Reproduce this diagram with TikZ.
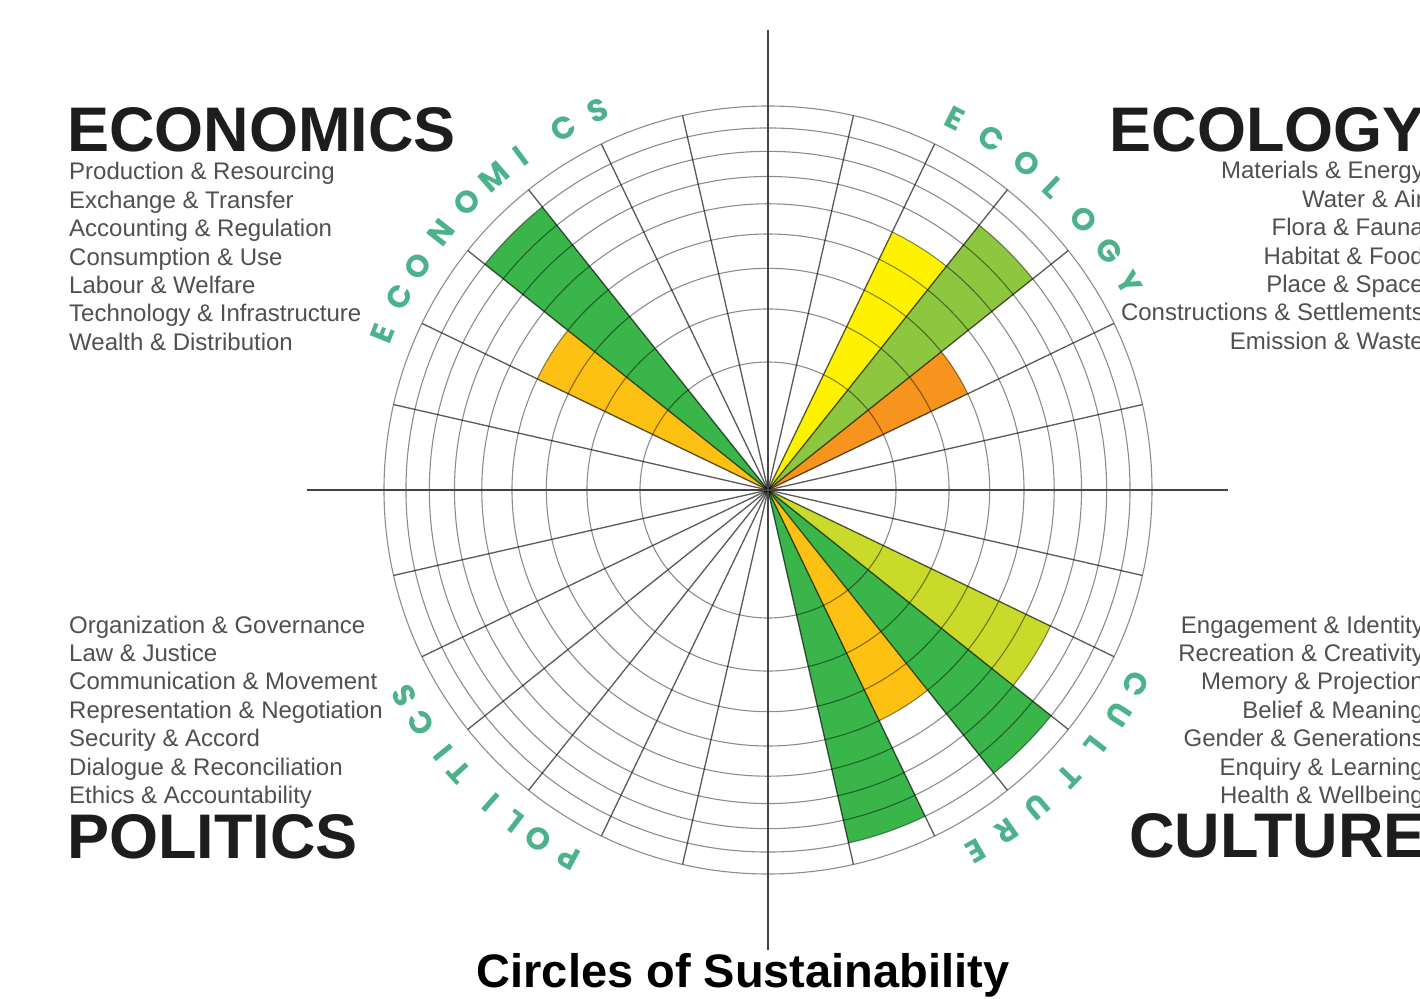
\documentclass[tikz,border=0pt]{standalone}
\usepackage{fontspec}
\setmainfont{Liberation Sans}
\newfontfamily\arcfont{Poppins}
\definecolor{arcteal}{HTML}{4BB28C}
\definecolor{secgreen}{HTML}{39B54A}
\definecolor{secamber}{HTML}{FDC113}
\definecolor{secyellow}{HTML}{FFF200}
\definecolor{seclgreen}{HTML}{8DC63F}
\definecolor{secorange}{HTML}{F7941E}
\definecolor{seclime}{HTML}{C9DA2A}
\definecolor{listgray}{HTML}{505050}
\definecolor{titleblack}{HTML}{1E1C1D}
\definecolor{axisgray}{HTML}{444444}
\newcommand\fillsector[3]{% colour, sector index, ring
  \pgfmathsetmacro\rr{384*sqrt(#3/9)}%
  \pgfmathsetmacro\aa{#2*360/28}%
  \pgfmathsetmacro\ab{(#2+1)*360/28}%
  \fill[#1] (0,0) -- (\aa:\rr) arc[start angle=\aa, end angle=\ab, radius=\rr] -- cycle;}
\tikzset{
  ringline/.style={draw=black, draw opacity=0.45, line width=1.1pt},
  spokeline/.style={draw=black, draw opacity=0.65, line width=1.3pt},
  axisline/.style={draw=axisgray, line width=2.4pt},
  arcletter/.style={font=\arcfont\bfseries\fontsize{31}{31}\selectfont, text=arcteal, inner sep=0pt, anchor=center},
  bigtitle/.style={font=\fontsize{63}{63}\selectfont\bfseries, text=titleblack, inner sep=0pt},
  listleft/.style={font=\fontsize{24}{24}\selectfont, text=listgray, inner sep=0pt, anchor=base west},
  listright/.style={font=\fontsize{24}{24}\selectfont, text=listgray, inner sep=0pt, anchor=base east},
}
\begin{document}
\begin{tikzpicture}[x=1pt,y=1pt]
\useasboundingbox (-768,-508) rectangle (652,490);
\fill[white] (-768,-508) rectangle (652,490);
% filled sectors
\fillsector{secgreen}{10}{8}
\fillsector{secamber}{11}{4}
\fillsector{secyellow}{4}{5}
\fillsector{seclgreen}{3}{7}
\fillsector{secorange}{2}{3}
\fillsector{seclime}{25}{6}
\fillsector{secgreen}{24}{8}
\fillsector{secamber}{23}{4}
\fillsector{secgreen}{22}{8}
% rings
\foreach \k in {1,...,9}{
  \pgfmathsetmacro\rk{384*sqrt(\k/9)}
  \draw[ringline] (0,0) circle[radius=\rk];
}
% spokes
\coordinate (ctr) at (0,0);
\foreach \i in {0,...,27}{
  \draw[spokeline] (ctr) -- ({\i*360/28}:384);
}
% axes
\coordinate (axN) at (0,460);
\coordinate (axS) at (0,-460);
\coordinate (axW) at (-461,0);
\coordinate (axE) at (460,0);
\draw[axisline] (axN) -- (axS);
\draw[axisline] (axW) -- (axE);
% curved labels
\foreach \a/\l [count=\n] in {157.9/E,152.4/C,147.4/O,141.8/N,136.3/O,131.1/M,126.5/I,119.5/C,114.1/S}
  \node[arcletter, rotate=\a-90] (econ\n) at (\a:416) {\l};
\foreach \a/\l [count=\n] in {63.3/E,57.6/C,51.6/O,46.6/L,40.6/O,35.0/G,29.9/Y}
  \node[arcletter, rotate=\a-90] (ecol\n) at (\a:416) {\l};
\foreach \a/\l [count=\n] in {-27.8/C,-32.6/U,-38.0/L,-43.6/T,-49.7/U,-55.0/R,-60.1/E}
  \node[arcletter, rotate=\a-90] (cult\n) at (\a:416) {\l};
\foreach \a/\l [count=\n] in {-118.4/P,-123.3/O,-127.5/L,-131.5/I,-137.6/T,-141.0/I,-146.1/C,-150.6/S}
  \node[arcletter, rotate=\a-90] (poli\n) at (\a:418) {\l};
% titles
\node[bigtitle, anchor=base west] (tEcon) at (-701,338) {ECONOMICS};
\node[bigtitle, anchor=base east] (tEcol) at (657,338) {ECOLOGY};
\node[bigtitle, anchor=base west] (tPoli) at (-701,-368) {POLITICS};
\node[bigtitle, anchor=base east] (tCult) at (658,-367) {CULTURE};
% lists
\foreach \t [count=\n from 0] in {Production \& Resourcing, Exchange \& Transfer, Accounting \& Regulation, Consumption \& Use, Labour \& Welfare, Technology \& Infrastructure, Wealth \& Distribution}
  \node[listleft] (lEcon\n) at (-699,{310-28.4*\n}) {\t};
\foreach \t [count=\n from 0] in {Materials \& Energy, Water \& Air, Flora \& Fauna, Habitat \& Food, Place \& Space, Constructions \& Settlements, Emission \& Waste}
  \node[listright] (lEcol\n) at (656,{311-28.4*\n}) {\t};
\foreach \t [count=\n from 0] in {Organization \& Governance, Law \& Justice, Communication \& Movement, Representation \& Negotiation, Security \& Accord, Dialogue \& Reconciliation, Ethics \& Accountability}
  \node[listleft] (lPoli\n) at (-699,{-143-28.4*\n}) {\t};
\foreach \t [count=\n from 0] in {Engagement \& Identity, Recreation \& Creativity, Memory \& Projection, Belief \& Meaning, Gender \& Generations, Enquiry \& Learning, Health \& Wellbeing}
  \node[listright] (lCult\n) at (656,{-143-28.4*\n}) {\t};
% main title
\node[font=\fontsize{47}{47}\selectfont\bfseries, text=black, inner sep=0pt, anchor=base] (mainTitle) at (-25,-497) {Circles of Sustainability};
\end{tikzpicture}
\end{document}
